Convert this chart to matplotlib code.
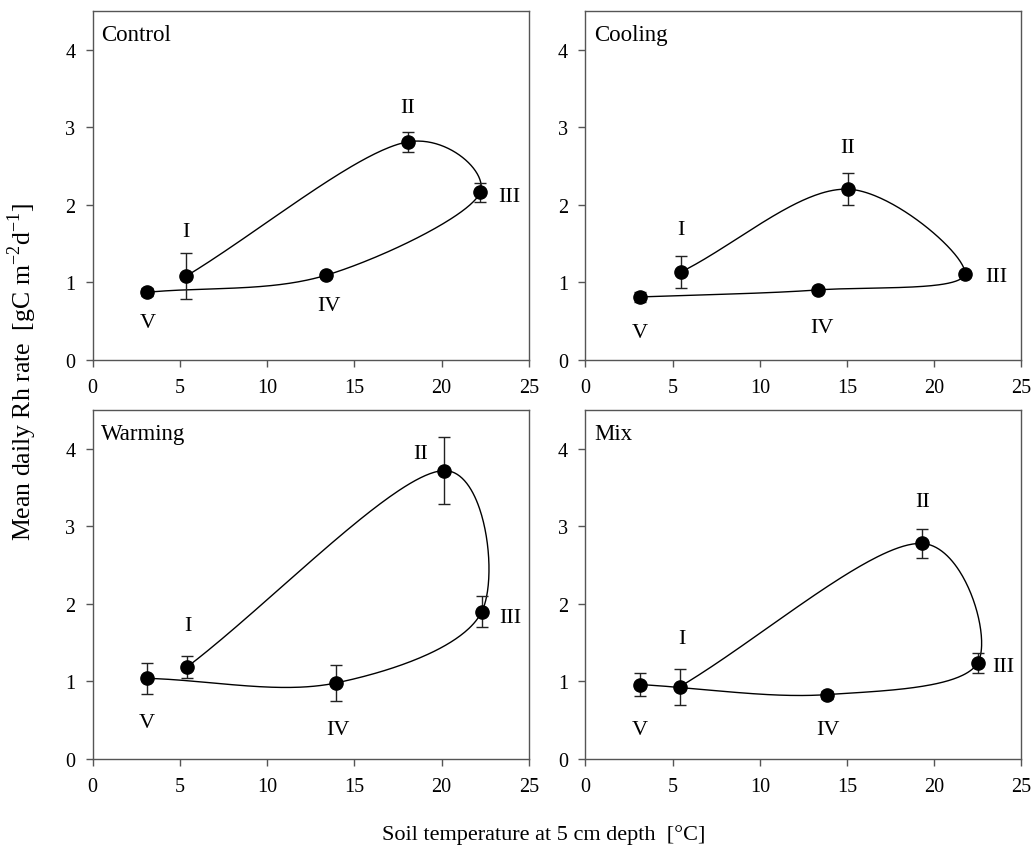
import numpy as np
import matplotlib
matplotlib.use("Agg")
import matplotlib.pyplot as plt

plt.rcParams["font.family"] = ["Liberation Serif", "DejaVu Serif"]
plt.rcParams["mathtext.fontset"] = "custom"
plt.rcParams["mathtext.rm"] = "Liberation Serif"

# stages in the order the curve runs through them
stages = ["I", "II", "III", "IV", "V"]

panels = ["Control", "Cooling", "Warming", "Mix"]

control_temp = [5.37, 18.06, 22.21, 13.38, 3.13]
control_rh = [1.08, 2.81, 2.16, 1.09, 0.87]
control_err = [0.30, 0.13, 0.12, 0.03, 0.05]

cooling_temp = [5.47, 15.06, 21.74, 13.31, 3.13]
cooling_rh = [1.13, 2.20, 1.10, 0.90, 0.81]
cooling_err = [0.21, 0.21, 0.03, 0.03, 0.07]

warming_temp = [5.43, 20.16, 22.30, 13.93, 3.10]
warming_rh = [1.19, 3.72, 1.90, 0.98, 1.04]
warming_err = [0.14, 0.43, 0.20, 0.23, 0.20]

mix_temp = [5.40, 19.32, 22.49, 13.83, 3.11]
mix_rh = [0.93, 2.78, 1.24, 0.83, 0.96]
mix_err = [0.23, 0.19, 0.13, 0.05, 0.15]

temps = [control_temp, cooling_temp, warming_temp, mix_temp]
rates = [control_rh, cooling_rh, warming_rh, mix_rh]
errs = [control_err, cooling_err, warming_err, mix_err]

# label offsets from each point (pixels), same order as stages
label_offsets = [
    [(0, 45), (0, 34), (29, -4), (3, -30), (0, -30)],
    [(0, 43), (0, 42), (32, -2), (4, -38), (0, -36)],
    [(0, 41), (-24, 17), (29, -6), (2, -46), (0, -44)],
    [(2, 48), (0, 42), (26, -4), (1, -35), (0, -45)],
]


def catmull_rom(x, y, sx=17.45, sy=77.6, alpha=0.2, n=80):
    # Catmull-Rom through the points, in screen-like units
    P = np.column_stack([np.asarray(x) * sx, np.asarray(y) * sy])
    P = np.vstack([2 * P[0] - P[1], P, 2 * P[-1] - P[-2]])
    out = []
    for i in range(1, len(P) - 2):
        p0, p1, p2, p3 = P[i - 1], P[i], P[i + 1], P[i + 2]
        t0 = 0.0
        t1 = t0 + np.linalg.norm(p1 - p0) ** alpha
        t2 = t1 + np.linalg.norm(p2 - p1) ** alpha
        t3 = t2 + np.linalg.norm(p3 - p2) ** alpha
        t = np.linspace(t1, t2, n)[:, None]
        A1 = (t1 - t) / (t1 - t0) * p0 + (t - t0) / (t1 - t0) * p1
        A2 = (t2 - t) / (t2 - t1) * p1 + (t - t1) / (t2 - t1) * p2
        A3 = (t3 - t) / (t3 - t2) * p2 + (t - t2) / (t3 - t2) * p3
        B1 = (t2 - t) / (t2 - t0) * A1 + (t - t0) / (t2 - t0) * A2
        B2 = (t3 - t) / (t3 - t1) * A2 + (t - t1) / (t3 - t1) * A3
        C = (t2 - t) / (t2 - t1) * B1 + (t - t1) / (t2 - t1) * B2
        out.append(C)
    C = np.vstack(out)
    return C[:, 0] / sx, C[:, 1] / sy


fig = plt.figure(figsize=(10.36, 8.54), dpi=100)
lefts = [0.0895, 0.565]
bottoms = [0.5776, 0.1101]
w = 0.421
h = 0.4085

for k, name in enumerate(panels):
    row, col = divmod(k, 2)
    ax = fig.add_axes([lefts[col], bottoms[row], w, h])
    px, py = catmull_rom(temps[k], rates[k])
    ax.plot(px, py, color="black", lw=1.0, zorder=2)
    ax.errorbar(temps[k], rates[k], yerr=errs[k], fmt="o", color="black",
                ms=9.5, ecolor="#222222", elinewidth=1.0, capsize=4,
                capthick=1.0, zorder=3)
    for s, xv, yv, off in zip(stages, temps[k], rates[k], label_offsets[k]):
        ax.annotate(s, (xv, yv), xytext=off, textcoords="offset pixels",
                    ha="center", va="center", fontsize=16)
    ax.text(0.02, 0.962, name, transform=ax.transAxes, ha="left", va="top",
            fontsize=16.5)
    ax.set_xlim(0, 25)
    ax.set_ylim(0, 4.5)
    ax.set_xticks(np.arange(0, 26, 5))
    ax.set_yticks(np.arange(0, 5, 1))
    ax.tick_params(direction="out", length=5, width=1, labelsize=14.5,
                   color="#555555")
    ax.tick_params(axis="x", pad=8)
    ax.tick_params(axis="y", pad=7.5)
    for sp in ax.spines.values():
        sp.set_color("#555555")
        sp.set_linewidth(1.0)

fig.text(0.021, 1 - 372 / 854,
         r"Mean daily Rh rate  [gC m$^{-2}$d$^{-1}$]",
         rotation=90, ha="center", va="center", fontsize=18.5)
fig.text(0.525, 0.022, "Soil temperature at 5 cm depth  [°C]",
         ha="center", va="center", fontsize=16)

fig.savefig("out.png", dpi=100)
